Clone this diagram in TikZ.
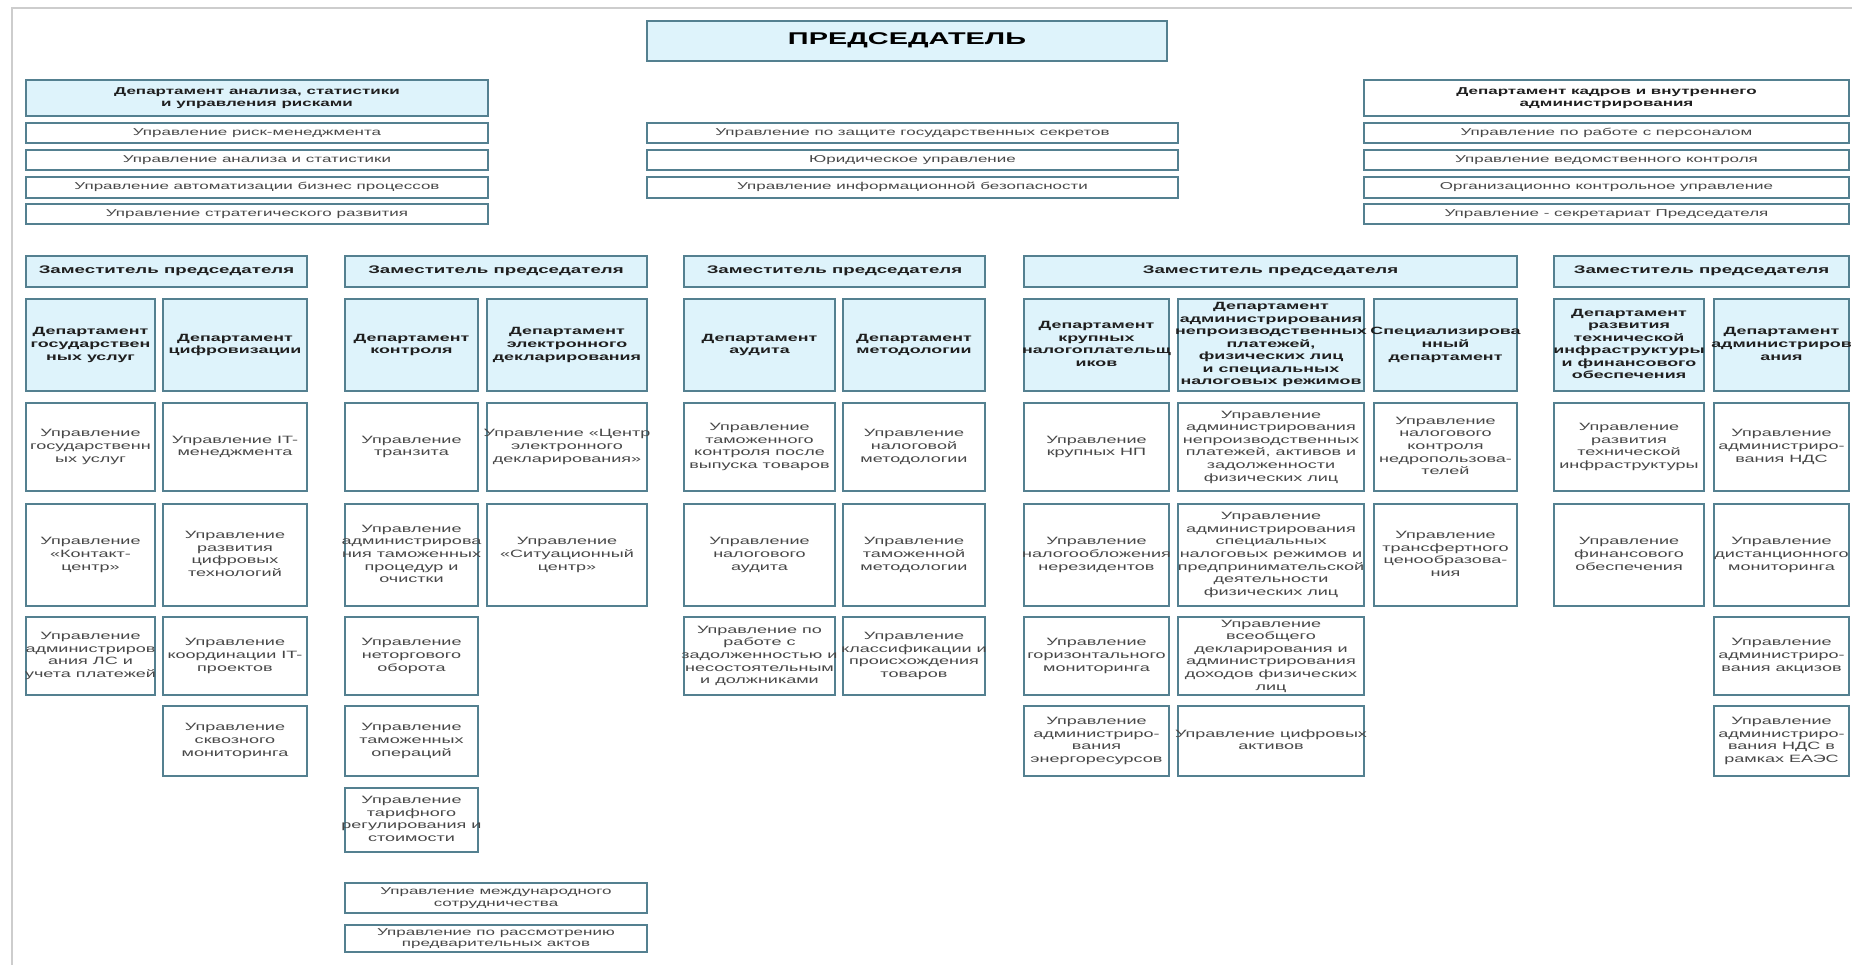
\documentclass[tikz,border=0pt]{standalone}
\usepackage{fontspec}
\setmainfont{Liberation Sans}[FakeStretch=1.7]
\definecolor{bordc}{RGB}{84,128,144}
\definecolor{fillc}{RGB}{222,243,251}
\definecolor{framec}{RGB}{205,205,205}
\newcommand\bx[7]{\node[#6, minimum width={(#4-#2)*1pt}, minimum height={(#5-#3)*1pt}] (#1) at ({(#2+#4)/2},{(#3+#5)/2}) {\makebox[0pt]{\begin{tabular}{@{}c@{}}#7\end{tabular}}};}
\tikzset{
  box/.style={draw=bordc, line width=1.6pt, inner sep=0pt, font=\fontsize{10.6}{12.6}\selectfont, text=black!72},
  row/.style={box, fill=white, font=\fontsize{10}{11.5}\selectfont},
  hdr/.style={box, fill=fillc, font=\bfseries\fontsize{10.5}{12.5}\selectfont, text=black!88},
  tophdr/.style={hdr, font=\bfseries\fontsize{10}{11.5}\selectfont},
  tophdrw/.style={tophdr, fill=white},
  dep/.style={hdr, font=\bfseries\fontsize{11}{12.5}\selectfont},
  sub/.style={box, fill=white},
  chairbox/.style={hdr, font=\bfseries\fontsize{17}{19}\selectfont, text=black}
}
\begin{document}
\begin{tikzpicture}[x=1pt,y=-1pt]
\useasboundingbox (0,0) rectangle (1852,965);
\fill[white] (0,0) rectangle (1852,965);
\draw[framec, line width=2pt] (12,965) -- (12,8) -- (1852,8);
% chairman
\bx{chair}{647}{21}{1167}{61}{chairbox}{ПРЕДСЕДАТЕЛЬ}
% left department
\bx{dA}{26}{80}{488}{116}{tophdr}{Департамент анализа, статистики\\и управления рисками}
\bx{a1}{26}{123}{488}{143}{row}{Управление  риск-менеджмента}
\bx{a2}{26}{150}{488}{170}{row}{Управление  анализа  и  статистики}
\bx{a3}{26}{177}{488}{198}{row}{Управление  автоматизации  бизнес процессов}
\bx{a4}{26}{204}{488}{224}{row}{Управление  стратегического развития}
% middle
\bx{m1}{647}{123}{1178}{143}{row}{Управление  по защите  государственных секретов}
\bx{m2}{647}{150}{1178}{170}{row}{Юридическое управление}
\bx{m3}{647}{177}{1178}{198}{row}{Управление  информационной безопасности}
% right department
\bx{dK}{1364}{80}{1849}{116}{tophdrw}{Департамент кадров и внутреннего\\администрирования}
\bx{k1}{1364}{123}{1849}{143}{row}{Управление  по работе с персоналом}
\bx{k2}{1364}{150}{1849}{170}{row}{Управление  ведомственного контроля}
\bx{k3}{1364}{177}{1849}{198}{row}{Организационно контрольное управление}
\bx{k4}{1364}{204}{1849}{224}{row}{Управление  - секретариат Председателя}
% deputies
\bx{z1}{26}{256}{307}{287}{dep}{Заместитель председателя}
\bx{z2}{345}{256}{647}{287}{dep}{Заместитель председателя}
\bx{z3}{684}{256}{985}{287}{dep}{Заместитель председателя}
\bx{z4}{1024}{256}{1517}{287}{dep}{Заместитель председателя}
\bx{z5}{1554}{256}{1849}{287}{dep}{Заместитель председателя}
% departments
\bx{c1}{26}{299}{155}{391}{hdr}{Департамент\\государствен\\ных услуг}
\bx{c2}{163}{299}{307}{391}{hdr}{Департамент\\цифровизации}
\bx{c3}{345}{299}{478}{391}{hdr}{Департамент\\контроля}
\bx{c4}{487}{299}{647}{391}{hdr}{Департамент\\электронного\\декларирования}
\bx{c5}{684}{299}{835}{391}{hdr}{Департамент\\аудита}
\bx{c6}{843}{299}{985}{391}{hdr}{Департамент\\методологии}
\bx{c7}{1024}{299}{1169}{391}{hdr}{Департамент\\крупных\\налогоплательщ\\иков}
\bx{c8}{1178}{299}{1364}{391}{hdr}{Департамент\\администрирования\\непроизводственных\\платежей,\\физических лиц\\и специальных\\налоговых режимов}
\bx{c9}{1374}{299}{1517}{391}{hdr}{Специализирова\\нный\\департамент}
\bx{c10}{1554}{299}{1704}{391}{hdr}{Департамент\\развития\\технической\\инфраструктуры\\и финансового\\обеспечения}
\bx{c11}{1714}{299}{1849}{391}{hdr}{Департамент\\администриров\\ания}
% column 1
\bx{c1a}{26}{403}{155}{491}{sub}{Управление\\государственн\\ых услуг}
\bx{c1b}{26}{504}{155}{606}{sub}{Управление\\«Контакт-\\центр»}
\bx{c1c}{26}{617}{155}{695}{sub}{Управление\\администриров\\ания ЛС и\\учета платежей}
% column 2
\bx{c2a}{163}{403}{307}{491}{sub}{Управление IT-\\менеджмента}
\bx{c2b}{163}{504}{307}{606}{sub}{Управление\\развития\\цифровых\\технологий}
\bx{c2c}{163}{617}{307}{695}{sub}{Управление\\координации IT-\\проектов}
\bx{c2d}{163}{706}{307}{776}{sub}{Управление\\сквозного\\мониторинга}
% column 3
\bx{c3a}{345}{403}{478}{491}{sub}{Управление\\транзита}
\bx{c3b}{345}{504}{478}{606}{sub}{Управление\\администрирова\\ния таможенных\\процедур и\\очистки}
\bx{c3c}{345}{617}{478}{695}{sub}{Управление\\неторгового\\оборота}
\bx{c3d}{345}{706}{478}{776}{sub}{Управление\\таможенных\\операций}
\bx{c3e}{345}{788}{478}{852}{sub}{Управление\\тарифного\\регулирования и\\стоимости}
% column 4
\bx{c4a}{487}{403}{647}{491}{sub}{Управление «Центр\\электронного\\декларирования»}
\bx{c4b}{487}{504}{647}{606}{sub}{Управление\\«Ситуационный\\центр»}
% column 5
\bx{c5a}{684}{403}{835}{491}{sub}{Управление\\таможенного\\контроля после\\выпуска товаров}
\bx{c5b}{684}{504}{835}{606}{sub}{Управление\\налогового\\аудита}
\bx{c5c}{684}{617}{835}{695}{sub}{Управление по\\работе с\\задолженностью и\\несостоятельным\\и должниками}
% column 6
\bx{c6a}{843}{403}{985}{491}{sub}{Управление\\налоговой\\методологии}
\bx{c6b}{843}{504}{985}{606}{sub}{Управление\\таможенной\\методологии}
\bx{c6c}{843}{617}{985}{695}{sub}{Управление\\классификации и\\происхождения\\товаров}
% column 7
\bx{c7a}{1024}{403}{1169}{491}{sub}{Управление\\крупных НП}
\bx{c7b}{1024}{504}{1169}{606}{sub}{Управление\\налогообложения\\нерезидентов}
\bx{c7c}{1024}{617}{1169}{695}{sub}{Управление\\горизонтального\\мониторинга}
\bx{c7d}{1024}{706}{1169}{776}{sub}{Управление\\администриро-\\вания\\энергоресурсов}
% column 8
\bx{c8a}{1178}{403}{1364}{491}{sub}{Управление\\администрирования\\непроизводственных\\платежей, активов и\\задолженности\\физических лиц}
\bx{c8b}{1178}{504}{1364}{606}{sub}{Управление\\администрирования\\специальных\\налоговых режимов и\\предпринимательской\\деятельности\\физических лиц}
\bx{c8c}{1178}{617}{1364}{695}{sub}{Управление\\всеобщего\\декларирования и\\администрирования\\доходов физических\\лиц}
\bx{c8d}{1178}{706}{1364}{776}{sub}{Управление цифровых\\активов}
% column 9
\bx{c9a}{1374}{403}{1517}{491}{sub}{Управление\\налогового\\контроля\\недропользова-\\телей}
\bx{c9b}{1374}{504}{1517}{606}{sub}{Управление\\трансфертного\\ценообразова-\\ния}
% column 10
\bx{c10a}{1554}{403}{1704}{491}{sub}{Управление\\развития\\технической\\инфраструктуры}
\bx{c10b}{1554}{504}{1704}{606}{sub}{Управление\\финансового\\обеспечения}
% column 11
\bx{c11a}{1714}{403}{1849}{491}{sub}{Управление\\администриро-\\вания НДС}
\bx{c11b}{1714}{504}{1849}{606}{sub}{Управление\\дистанционного\\мониторинга}
\bx{c11c}{1714}{617}{1849}{695}{sub}{Управление\\администриро-\\вания акцизов}
\bx{c11d}{1714}{706}{1849}{776}{sub}{Управление\\администриро-\\вания НДС в\\рамках ЕАЭС}
% bottom
\bx{b1}{345}{883}{647}{913}{row}{Управление  международного\\сотрудничества}
\bx{b2}{345}{925}{647}{952}{row}{Управление по рассмотрению\\предварительных актов}
\end{tikzpicture}
\end{document}
